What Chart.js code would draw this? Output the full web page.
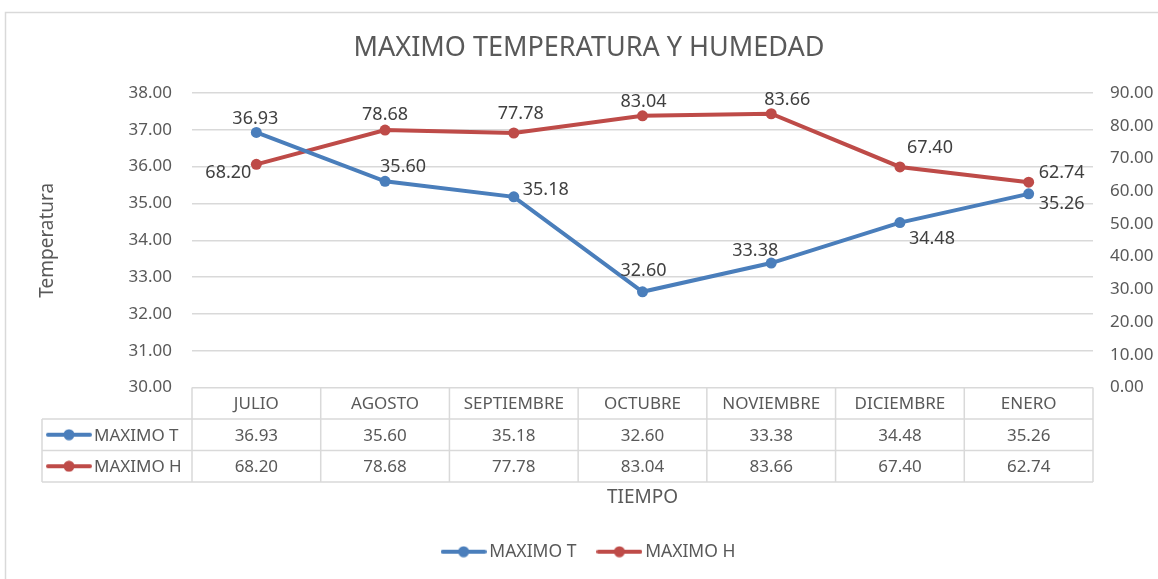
<!DOCTYPE html>
<html><head><meta charset="utf-8">
<script src="https://cdn.jsdelivr.net/npm/chart.js@4.4.0/dist/chart.umd.min.js"></script>
<style>html,body{margin:0;padding:0;background:#fff;overflow:hidden}#wrap{position:relative;width:1158px;height:579px}</style>
</head><body><div id="wrap"><canvas id="c" width="1158" height="579"></canvas></div>
<script>
const categories = ['JULIO','AGOSTO','SEPTIEMBRE','OCTUBRE','NOVIEMBRE','DICIEMBRE','ENERO'];
const maximoT = [36.93, 35.60, 35.18, 32.60, 33.38, 34.48, 35.26];
const maximoH = [68.20, 78.68, 77.78, 83.04, 83.66, 67.40, 62.74];
const seriesNames = ['MAXIMO T', 'MAXIMO H'];
const chartTitle = 'MAXIMO TEMPERATURA Y HUMEDAD';
const xTitle = 'TIEMPO';
const yTitle = 'Temperatura';

// label placement (style only): [dx, dy] from point to label centre
const labelOffsetsT = [[-1,-14],[18,-14],[32,-7],[1,-21],[-16,-12],[32,16],[33,10]];
const labelOffsetsH = [[-28,9],[0,-15],[7,-19],[1,-14],[16,-14],[30,-19],[33,-9]];

const BLUE = '#4A7EBB', RED = '#BE4B48', GRID = '#D9D9D9', TXT = '#595959', LBL = '#404040';
const FONT = "'Noto Sans', sans-serif";

function markerImg(color){
  const c = document.createElement('canvas'); c.width = 46; c.height = 12;
  const x = c.getContext('2d');
  x.strokeStyle = color; x.lineWidth = 4; x.lineCap = 'round';
  x.beginPath(); x.moveTo(2,6); x.lineTo(44,6); x.stroke();
  x.fillStyle = color; x.beginPath(); x.arc(23,6,5.5,0,Math.PI*2); x.fill();
  return c;
}
const markers = [markerImg(BLUE), markerImg(RED)];

Chart.defaults.font.family = FONT;
Chart.defaults.color = TXT;

const frame = {
  id: 'frame',
  afterLayout(chart){
    if (chart.legend){ chart.legend.left += 12; chart.legend.right += 12; }
    if (chart.titleBlock){ chart.titleBlock.left += 10; chart.titleBlock.right += 10; }
  },
  beforeDraw(chart){
    const ctx = chart.ctx; ctx.save();
    ctx.fillStyle = '#fff'; ctx.fillRect(0,0,chart.width,chart.height);
    ctx.strokeStyle = GRID; ctx.lineWidth = 1.5;
    ctx.beginPath(); ctx.moveTo(5.5,chart.height); ctx.lineTo(5.5,12.5); ctx.lineTo(chart.width,12.5); ctx.stroke();
    ctx.restore();
  }
};

const dataLabels = {
  id: 'dataLabels',
  afterDatasetsDraw(chart){
    const ctx = chart.ctx; ctx.save();
    ctx.font = '18px ' + FONT; ctx.fillStyle = LBL; ctx.textAlign = 'center'; ctx.textBaseline = 'middle';
    const offs = [labelOffsetsT, labelOffsetsH];
    chart.data.datasets.forEach((ds, di) => {
      chart.getDatasetMeta(di).data.forEach((pt, i) => {
        const o = offs[di][i];
        ctx.fillText(ds.data[i].toFixed(2), pt.x + o[0], pt.y + o[1]);
      });
    });
    ctx.restore();
  }
};

const dataTable = {
  id: 'dataTable',
  afterDraw(chart){
    const ctx = chart.ctx, a = chart.chartArea, xs = chart.scales.x;
    const n = categories.length, colW = (a.right - a.left) / n;
    const rowH = 31.5, y0 = a.bottom, leftX = 42;
    ctx.save();
    ctx.strokeStyle = GRID; ctx.lineWidth = 1.5;
    ctx.beginPath();
    for (let r = 1; r <= 3; r++){ ctx.moveTo(leftX, y0 + r*rowH); ctx.lineTo(a.right, y0 + r*rowH); }
    for (let i = 0; i <= n; i++){ const x = a.left + i*colW; ctx.moveTo(x, y0); ctx.lineTo(x, y0 + 3*rowH); }
    ctx.moveTo(leftX, y0 + rowH); ctx.lineTo(leftX, y0 + 3*rowH);
    ctx.stroke();
    ctx.font = '17px ' + FONT; ctx.fillStyle = TXT; ctx.textAlign = 'center'; ctx.textBaseline = 'middle';
    categories.forEach((c, i) => ctx.fillText(c, xs.getPixelForValue(i), y0 + rowH/2 + 1));
    chart.data.datasets.forEach((ds, di) => {
      const yc = y0 + rowH*(di + 1.5) + 1;
      ds.data.forEach((v, i) => ctx.fillText(v.toFixed(2), xs.getPixelForValue(i), yc));
      ctx.drawImage(markers[di], leftX + 4, yc - 7);
      ctx.textAlign = 'left';
      ctx.fillText(seriesNames[di], leftX + 52, yc);
      ctx.textAlign = 'center';
    });
    ctx.restore();
  }
};

new Chart(document.getElementById('c'), {
  type: 'line',
  data: {
    labels: categories,
    datasets: [
      { label: seriesNames[0], data: maximoT, yAxisID: 'y', borderColor: BLUE, backgroundColor: BLUE,
        borderWidth: 4, pointRadius: 5.5, pointBorderWidth: 0, pointBackgroundColor: BLUE, pointStyle: 'circle', tension: 0 },
      { label: seriesNames[1], data: maximoH, yAxisID: 'y1', borderColor: RED, backgroundColor: RED,
        borderWidth: 4, pointRadius: 5.5, pointBorderWidth: 0, pointBackgroundColor: RED, pointStyle: 'circle', tension: 0 }
    ]
  },
  options: {
    responsive: false, animation: false,
    layout: { padding: { left: 0, right: 0, top: 0, bottom: 8.5 } },
    plugins: {
      title: { display: true, text: chartTitle, color: TXT, font: { size: 27, weight: 'normal' }, padding: { top: 32, bottom: 28.6 } },
      legend: {
        position: 'bottom',
        labels: {
          usePointStyle: true, pointStyleWidth: 34, padding: 26, color: TXT, font: { size: 17.5 },
          generateLabels(chart){
            return chart.data.datasets.map((ds, i) => ({ text: ds.label, pointStyle: markers[i], fillStyle: ds.borderColor, strokeStyle: ds.borderColor, lineWidth: 0, datasetIndex: i, fontColor: TXT }));
          }
        }
      },
      tooltip: { enabled: false }
    },
    scales: {
      x: {
        offset: true,
        grid: { display: false }, border: { display: false },
        ticks: { display: false },
        title: { display: true, text: xTitle, color: TXT, font: { size: 19 }, padding: { top: 0, bottom: 8 } },
        afterFit(s){ s.height = 129.5; }
      },
      y: {
        position: 'left', min: 30, max: 38,
        ticks: { stepSize: 1, padding: 20, color: TXT, font: { size: 17 }, callback: v => Number(v).toFixed(2) },
        grid: { color: GRID, lineWidth: 1.5, drawTicks: false }, border: { display: false },
        title: { display: true, text: yTitle, color: TXT, font: { size: 19 }, padding: { top: 36 } },
        afterFit(s){ s.width = 192; }
      },
      y1: {
        position: 'right', min: 0, max: 90,
        ticks: { stepSize: 10, padding: 17, color: TXT, font: { size: 17 }, callback: v => Number(v).toFixed(2) },
        grid: { display: false, drawTicks: false }, border: { display: false },
        afterFit(s){ s.width = 65; }
      }
    }
  },
  plugins: [frame, dataLabels, dataTable]
});
</script></body></html>
